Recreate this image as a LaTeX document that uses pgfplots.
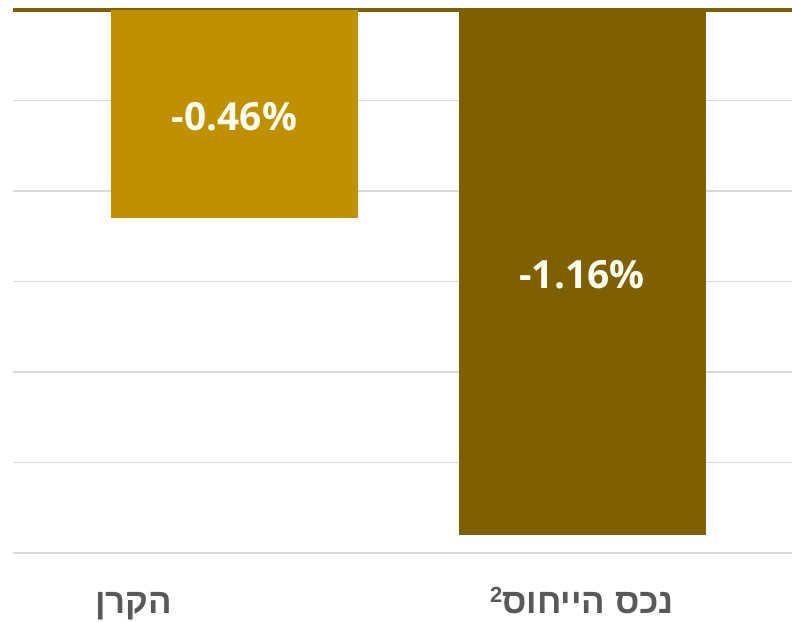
\documentclass[border=0pt]{standalone}
\usepackage{fontspec}
\setmainfont{Open Sans}
\newfontfamily\heb[Script=Hebrew]{Liberation Sans}
\TeXXeTstate=1
\usepackage{pgfplots}
\pgfplotsset{compat=1.18}
\definecolor{gold1}{HTML}{BF9000}
\definecolor{gold2}{HTML}{7F6000}
\definecolor{lab}{HTML}{595959}
\definecolor{gridc}{HTML}{D9D9D9}
\definecolor{vlab}{HTML}{FFFDF0}
\begin{document}
\begin{tikzpicture}[x=1bp,y=1bp]
\begin{axis}[at={(13bp,69bp)}, anchor=south west, scale only axis,
  width=779bp, height=543bp,
  ybar, bar width=247bp, bar shift=0pt,
  xmin=-0.6374, xmax=1.6043, ymin=-1.2, ymax=0,
  axis line style={draw=none},
  ytick={-1.2,-1.0,-0.8,-0.6,-0.4,-0.2}, yticklabels={},
  ymajorgrids, grid style={gridc, line width=1.2bp},
  major tick length=0pt,
  extra y ticks={0}, extra y tick labels={},
  extra y tick style={grid style={gold2, line width=4bp}},
  xtick={0,1},
  xticklabels={{\makebox[0pt]{\hspace*{-202bp}\beginR הקרן\endR}},{\beginR נכס הייחוס\raisebox{11bp}{\fontsize{22}{22}\selectfont 2}\endR}},
  xticklabel style={anchor=base, inner sep=0pt, yshift=-60bp,
    font=\heb\bfseries\fontsize{35}{35}\selectfont, text=lab},
  clip=false,
  nodes near coords style={text=vlab, font=\bfseries\fontsize{39}{39}\selectfont, anchor=center},
]
\addplot[fill=gold1, draw=none, nodes near coords={-0.46\%},
  nodes near coords style={yshift=101bp}] coordinates {(0,-0.46)};
\addplot[fill=gold2, draw=none, nodes near coords={-1.16\%},
  nodes near coords style={yshift=260bp}] coordinates {(1,-1.16)};
\end{axis}
\pgfresetboundingbox
\path (0,0) rectangle (792bp,622bp);
\end{tikzpicture}
\end{document}
